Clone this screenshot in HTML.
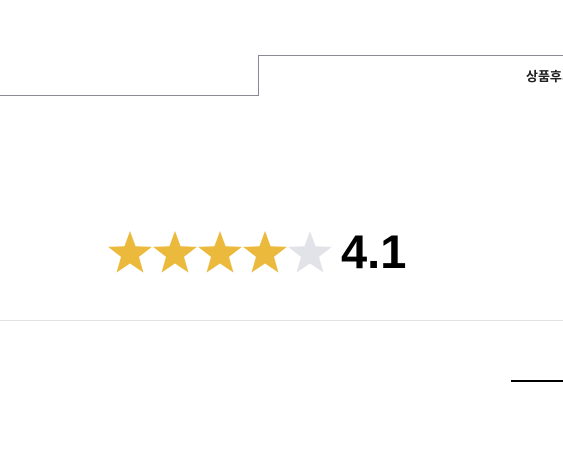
<!DOCTYPE html>
<html><head><meta charset="utf-8"><style>
html,body{margin:0;padding:0;background:#fff;width:563px;height:452px;overflow:hidden;position:relative;font-family:"Liberation Sans","Noto Sans CJK KR",sans-serif}
.abs{position:absolute}
</style></head><body>
<div class="abs" style="left:0;top:95px;width:259px;height:1px;background:#8a8a94"></div>
<div class="abs" style="left:258px;top:55px;width:1px;height:41px;background:#8a8a94"></div>
<div class="abs" style="left:258px;top:55px;width:305px;height:1px;background:#8a8a94"></div>
<div class="abs" style="left:526px;top:66px;font-size:13px;font-weight:bold;color:#222;white-space:nowrap">상품후기</div>
<svg class="abs" style="left:0;top:0" width="563" height="452" id="stars"></svg>
<div class="abs" style="left:341px;top:224px;font-size:47px;font-weight:bold;color:#000;line-height:56px">4.1</div>
<div class="abs" style="left:0;top:320px;width:563px;height:1px;background:#e2e2e2"></div>
<div class="abs" style="left:511px;top:380px;width:52px;height:2px;background:#000"></div>
<script>
const starIndex=[0,1,2,3,4];
const starFilled=[true,true,true,true,false];
const svg=document.getElementById('stars');
const cx0=130,dx=45,cy=252,R=23,r=9.5;
starIndex.forEach(i=>{
  const cx=cx0+i*dx;
  const pts=[];
  for(let k=0;k<10;k++){
    const a=-Math.PI/2+k*Math.PI/5;
    const rad=k%2?r:R;
    pts.push((cx+rad*Math.cos(a)).toFixed(1)+','+(cy+2+rad*Math.sin(a)).toFixed(1));
  }
  const p=document.createElementNS('http://www.w3.org/2000/svg','polygon');
  p.setAttribute('points',pts.join(' '));
  p.setAttribute('fill',starFilled[i]?'#ebb93b':'#e2e3e8');
  
  
  svg.appendChild(p);
});
</script>
</body></html>
